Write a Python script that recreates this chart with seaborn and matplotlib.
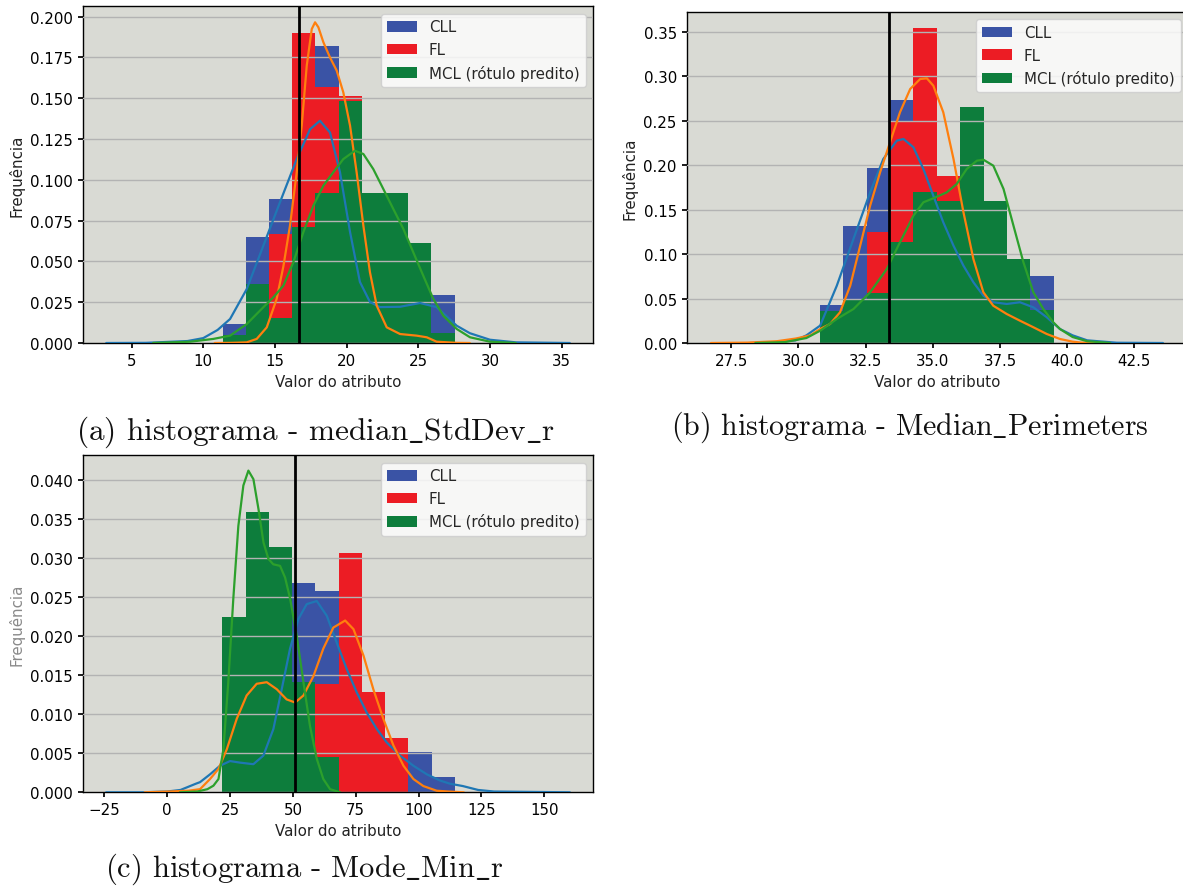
import numpy as np
import pandas as pd
import matplotlib
matplotlib.use("Agg")
import matplotlib.pyplot as plt
import seaborn as sns

# ---------------- data ----------------
labels = ["CLL", "FL", "MCL (rótulo predito)"]

# (a) median_StdDev_r : shared bin edges and per-class densities
a_edges = [11.36, 12.98, 14.60, 16.21, 17.83, 19.44, 21.06, 22.68, 24.29, 25.91, 27.53]
a_cll = [0.0116, 0.0647, 0.0883, 0.120, 0.182, 0.070, 0.025, 0.012, 0.016, 0.0295]
a_fl = [0.0, 0.0, 0.0668, 0.190, 0.157, 0.1516, 0.040, 0.005, 0.008, 0.0]
a_mcl = [0.005, 0.036, 0.0153, 0.0712, 0.092, 0.148, 0.092, 0.092, 0.0614, 0.006]
a_cut = 16.67

a_kde_cll_x = [3.23, 6.0, 8.9, 10.0, 11.0, 11.87, 13.03, 14.19, 15.35, 16.52, 17.45, 18.14, 18.84,
               19.54, 20.24, 20.93, 21.63, 22.33, 23.73, 25.12, 26.28, 27.68, 28.6, 30.0, 31.8, 35.57]
a_kde_cll_y = [0.0, 0.0001, 0.0012, 0.003, 0.008, 0.0147, 0.033, 0.0596, 0.0862, 0.1127, 0.131, 0.1362, 0.129,
               0.1046, 0.068, 0.0374, 0.0251, 0.022, 0.0222, 0.0245, 0.022, 0.0106, 0.006, 0.002, 0.0004, 0.0]
a_kde_fl_x = [10.8, 12.0, 13.03, 13.73, 14.43, 15.12, 15.59, 16.05, 16.52, 16.87, 17.22, 17.57, 17.8, 18.03,
              18.38, 18.84, 19.31, 19.77, 20.24, 20.7, 21.17, 21.63, 22.1, 22.8, 23.73, 24.89, 25.59, 26.28,
              27.68, 28.6]
a_kde_fl_y = [0.0, 0.0001, 0.0004, 0.0025, 0.0096, 0.027, 0.047, 0.0719, 0.1046, 0.1332, 0.170, 0.1924, 0.1965,
              0.1935, 0.1843, 0.175, 0.1669, 0.1536, 0.1332, 0.1046, 0.0719, 0.0433, 0.0229, 0.0096, 0.0055,
              0.0045, 0.0035, 0.0008, 0.0001, 0.0]
a_kde_mcl_x = [6.5, 9.1, 10.7, 11.87, 13.03, 14.19, 14.89, 15.59, 16.28, 16.98, 17.68, 18.38, 19.07, 19.77,
               20.58, 21.17, 21.86, 22.56, 23.26, 23.96, 24.65, 25.35, 26.05, 26.75, 27.68, 28.61, 30.0, 31.8]
a_kde_mcl_y = [0.0, 0.0008, 0.0025, 0.0045, 0.0116, 0.0219, 0.028, 0.0351, 0.0494, 0.0678, 0.0841, 0.0964,
               0.1046, 0.1127, 0.1178, 0.1158, 0.1066, 0.0944, 0.0821, 0.0699, 0.0556, 0.0412, 0.027, 0.0167,
               0.0086, 0.0035, 0.0008, 0.0]

# (b) Median_Perimeters
b_edges = [30.80, 31.67, 32.54, 33.41, 34.28, 35.15, 36.02, 36.89, 37.76, 38.63, 39.50]
b_cll = [0.043, 0.131, 0.197, 0.273, 0.170, 0.110, 0.070, 0.050, 0.036, 0.0757]
b_fl = [0.010, 0.030, 0.1251, 0.2499, 0.3542, 0.188, 0.090, 0.050, 0.035, 0.024]
b_mcl = [0.0364, 0.0495, 0.0562, 0.1139, 0.170, 0.160, 0.265, 0.160, 0.0944, 0.0375]
b_cut = 33.37

b_kde_cll_x = [28.2, 28.94, 29.9, 30.3, 30.81, 31.43, 32.05, 32.67, 33.16, 33.66, 33.91, 34.28, 34.65, 35.02,
               35.39, 35.77, 36.14, 36.51, 36.88, 37.25, 37.75, 38.24, 38.74, 39.24, 39.73, 40.2, 40.74,
               41.84, 43.56]
b_kde_cll_y = [0.0, 0.0005, 0.003, 0.0086, 0.0195, 0.0644, 0.117, 0.1694, 0.2069, 0.2275, 0.2294, 0.220,
               0.1956, 0.1656, 0.1357, 0.1094, 0.0869, 0.0683, 0.0532, 0.0458, 0.0439, 0.0458, 0.0401,
               0.0289, 0.0157, 0.0086, 0.003, 0.0003, 0.0]
b_kde_fl_x = [26.75, 28.1, 29.2, 29.9, 30.45, 30.81, 31.18, 31.55, 31.93, 32.3, 32.67, 33.04, 33.41, 33.78,
              34.16, 34.53, 34.78, 35.02, 35.39, 35.77, 36.14, 36.51, 36.88, 37.25, 37.75, 38.24, 38.74,
              39.24, 39.73, 40.2, 40.5, 41.0]
b_kde_fl_y = [0.0, 0.0004, 0.002, 0.005, 0.0086, 0.0157, 0.0214, 0.0345, 0.0644, 0.1094, 0.1544, 0.1919,
              0.2256, 0.2594, 0.2856, 0.2968, 0.2976, 0.2893, 0.2594, 0.2069, 0.147, 0.0944, 0.057, 0.0419,
              0.0326, 0.0251, 0.0177, 0.0101, 0.0045, 0.0015, 0.0005, 0.0]
b_kde_mcl_x = [28.4, 29.5, 30.3, 30.81, 31.43, 32.05, 32.67, 33.29, 33.78, 34.28, 34.65, 35.02, 35.52, 35.89,
               36.26, 36.64, 36.88, 37.25, 37.63, 38.0, 38.37, 38.74, 39.11, 39.48, 39.73, 40.2, 40.74, 41.6]
b_kde_mcl_y = [0.0, 0.001, 0.0056, 0.0138, 0.027, 0.0382, 0.057, 0.0832, 0.1132, 0.1432, 0.1582, 0.1627,
               0.1694, 0.1788, 0.1956, 0.205, 0.2061, 0.1994, 0.1732, 0.1319, 0.0907, 0.057, 0.0382, 0.0233,
               0.0157, 0.0067, 0.002, 0.0]

# (c) Mode_Min_r
c_edges = [21.9, 31.15, 40.4, 49.65, 58.9, 68.15, 77.4, 86.65, 95.9, 105.15, 114.4]
c_cll = [0.004, 0.003, 0.010, 0.0268, 0.0258, 0.018, 0.0095, 0.0044, 0.0051, 0.0020]
c_fl = [0.005, 0.013, 0.014, 0.0124, 0.01387, 0.0306, 0.0128, 0.0069, 0.0, 0.0]
c_mcl = [0.0224, 0.0359, 0.0314, 0.0141, 0.00448, 0.0, 0.0, 0.0, 0.0, 0.0]
c_cut = 51.0

c_kde_cll_x = [-24.3, -10.0, 0.0, 5.3, 11.4, 13.06, 17.04, 21.0, 25.0, 28.98, 34.28, 38.26, 42.24, 45.56,
               48.87, 52.19, 55.5, 59.5, 63.5, 67.4, 71.4, 75.4, 79.4, 83.4, 87.3, 92.6, 97.95, 103.3,
               108.6, 112.5, 117.6, 123.7, 130.0, 160.2]
c_kde_cll_y = [0.0, 0.0, 0.0001, 0.0003, 0.0011, 0.0013, 0.0023, 0.0034, 0.004, 0.0038, 0.0036, 0.0047,
               0.0081, 0.0132, 0.0184, 0.0222, 0.0241, 0.0245, 0.0226, 0.0192, 0.0158, 0.0128, 0.0102,
               0.0081, 0.0064, 0.0047, 0.0034, 0.0023, 0.0015, 0.0011, 0.0008, 0.0003, 0.0001, 0.0]
c_kde_fl_x = [-9.0, 0.8, 8.4, 13.06, 17.04, 20.4, 23.7, 27.65, 31.6, 35.6, 39.6, 43.6, 47.5, 50.9, 54.2,
              58.2, 62.1, 66.1, 70.8, 74.1, 78.1, 82.0, 86.0, 90.0, 94.0, 97.95, 101.9, 107.2, 112.0, 118.0]
c_kde_fl_y = [0.0, 0.0001, 0.0002, 0.0004, 0.0017, 0.003, 0.0055, 0.0094, 0.0124, 0.0139, 0.0141, 0.0132,
              0.0119, 0.0115, 0.0124, 0.0149, 0.0184, 0.0211, 0.022, 0.0209, 0.0175, 0.0132, 0.0094, 0.006,
              0.0034, 0.0017, 0.0008, 0.0002, 0.0001, 0.0]
c_kde_mcl_x = [5.0, 12.0, 16.0, 18.4, 20.4, 22.35, 24.3, 26.3, 28.3, 30.3, 32.3, 34.3, 36.3, 38.3, 40.25,
               42.2, 44.9, 46.9, 48.9, 51.5, 54.2, 56.8, 59.5, 62.1, 64.8, 68.8]
c_kde_mcl_y = [0.0, 0.0001, 0.0004, 0.00085, 0.0017, 0.0055, 0.0141, 0.0248, 0.0341, 0.0393, 0.0412, 0.0401,
               0.0363, 0.032, 0.0299, 0.0292, 0.029, 0.0275, 0.0248, 0.0201, 0.0141, 0.0085, 0.0043, 0.0017,
               0.0004, 0.0]

# ---------------- style ----------------
sns.set_theme(style="ticks")
plt.rcParams.update({
    "font.family": ["DejaVu Sans"],
    "font.size": 10.8,
    "mathtext.fontset": "cm",
    "axes.facecolor": "#d9dad4",
    "axes.edgecolor": "black",
    "axes.linewidth": 1.0,
    "xtick.color": "black",
    "ytick.color": "black",
    "xtick.major.size": 3.8,
    "ytick.major.size": 3.8,
})

bar_colors = ["#3a53a5", "#ec1c24", "#0d7d3c"]
kde_colors = ["#1f77b4", "#ff7f0e", "#2ca02c"]


def panel(ax, edges, dens, kdes, cut, xlim, ylim, ylabel_color="#222222"):
    edges = [float(e) for e in edges]
    centers = [(lo + hi) / 2 for lo, hi in zip(edges[:-1], edges[1:])]
    for h, col, lab in zip(dens, bar_colors, labels):
        df = pd.DataFrame({"valor": centers, "dens": h})
        sns.histplot(data=df, x="valor", weights="dens", bins=edges, color=col, alpha=1.0,
                     linewidth=0, ax=ax, label=lab, zorder=1)
    for (kx, ky), col in zip(kdes, kde_colors):
        sns.lineplot(x=kx, y=ky, color=col, linewidth=1.6, ax=ax, legend=False, zorder=3)
    ax.axvline(cut, color="black", linewidth=2.0, zorder=4)
    ax.set_axisbelow(False)
    ax.yaxis.grid(True, color="#b3b3b3", linewidth=1.0)
    ax.xaxis.grid(False)
    ax.set_xlim(*xlim)
    ax.set_ylim(*ylim)
    ax.set_xlabel("Valor do atributo", fontsize=10.8, color="#222222")
    ax.set_ylabel("Frequência", fontsize=10.8, color=ylabel_color)
    ax.tick_params(labelsize=10.8)
    for s in ax.spines.values():
        s.set_visible(True)
        s.set_color("black")
    ax.legend(loc="upper right", fontsize=10.8, framealpha=0.8,
              facecolor="white", edgecolor="#cccccc")


W, H = 1183, 887
fig = plt.figure(figsize=(W / 100, H / 100), dpi=100)
fig.patch.set_facecolor("white")

ax_a = fig.add_axes([83 / W, (H - 344) / H, 510 / W, 337 / H])
ax_b = fig.add_axes([687 / W, (H - 344) / H, 501 / W, 331.3 / H])
ax_c = fig.add_axes([83 / W, (H - 793.3) / H, 510 / W, 337.3 / H])

panel(ax_a, a_edges, [a_cll, a_fl, a_mcl],
      [(a_kde_cll_x, a_kde_cll_y), (a_kde_fl_x, a_kde_fl_y), (a_kde_mcl_x, a_kde_mcl_y)],
      a_cut, (1.61, 37.19), (0, 0.2065))
panel(ax_b, b_edges, [b_cll, b_fl, b_mcl],
      [(b_kde_cll_x, b_kde_cll_y), (b_kde_fl_x, b_kde_fl_y), (b_kde_mcl_x, b_kde_mcl_y)],
      b_cut, (25.86, 44.49), (0, 0.3725))
panel(ax_c, c_edges, [c_cll, c_fl, c_mcl],
      [(c_kde_cll_x, c_kde_cll_y), (c_kde_fl_x, c_kde_fl_y), (c_kde_mcl_x, c_kde_mcl_y)],
      c_cut, (-33.5, 169.4), (0, 0.0432), ylabel_color="#8a8a8a")

cap_kw = dict(family="cmr10", ha="center", va="center", color="#111111")
fig.text(315 / W, 1 - 432 / H, r"(a) histograma - median$\_$StdDev$\_$r", fontsize=22.5, **cap_kw)
fig.text(910 / W, 1 - 427 / H, r"(b) histograma - Median$\_$Perimeters", fontsize=21.5, **cap_kw)
fig.text(304 / W, 1 - 869 / H, r"(c) histograma - Mode$\_$Min$\_$r", fontsize=22, **cap_kw)

fig.savefig("out.png", dpi=100)
